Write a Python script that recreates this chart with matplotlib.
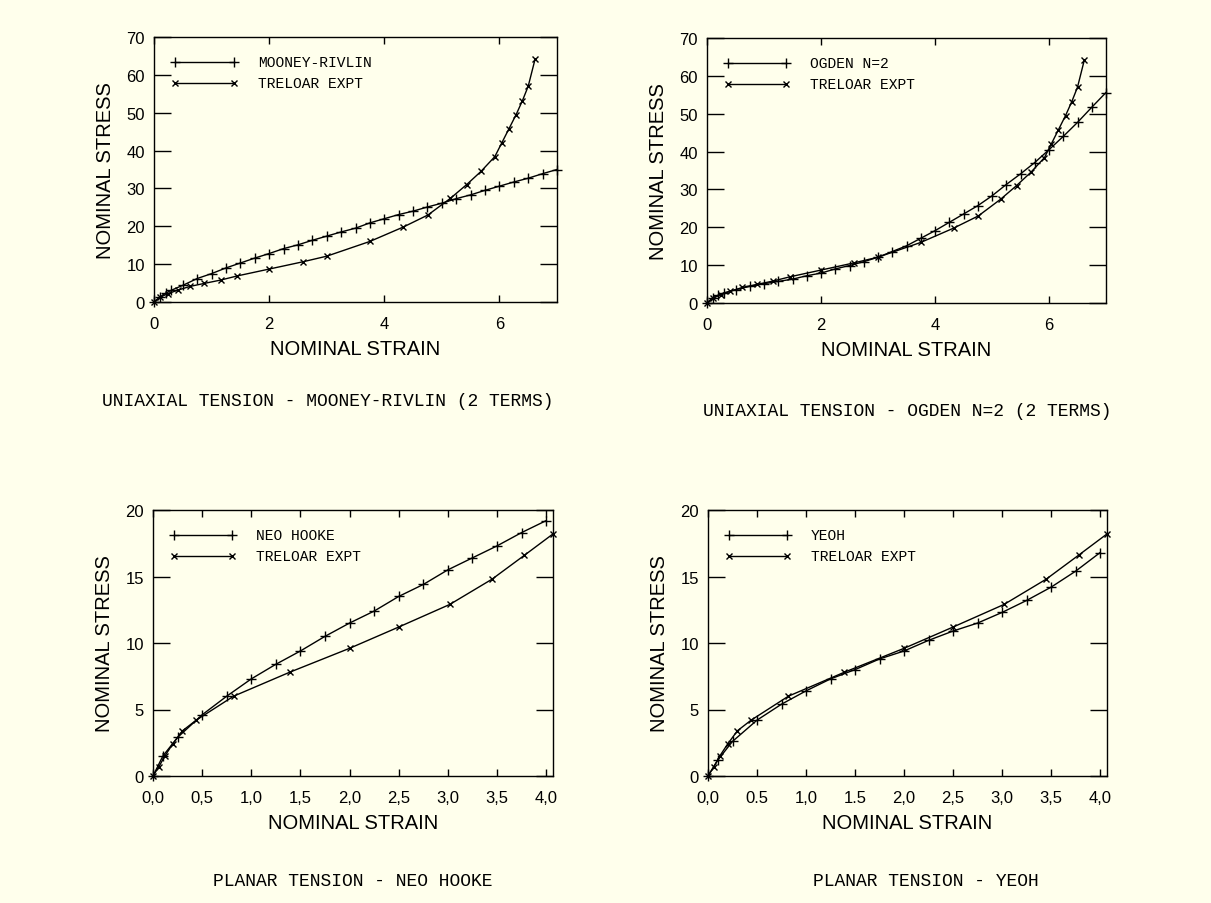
import numpy as np
import matplotlib
matplotlib.use("Agg")
import matplotlib.pyplot as plt

# uniaxial tension data
model_strain_u = [0.0, 0.1, 0.2, 0.3, 0.5, 0.75, 1.0, 1.25, 1.5, 1.75, 2.0, 2.25, 2.5, 2.75, 3.0, 3.25,
                  3.5, 3.75, 4.0, 4.25, 4.5, 4.75, 5.0, 5.25, 5.5, 5.75, 6.0, 6.25, 6.5, 6.75, 7.0]
mooney_stress = [0.0, 1.3, 2.3, 3.1, 4.4, 6.2, 7.5, 9.0, 10.3, 11.6, 12.8, 14.1, 15.1, 16.3, 17.4, 18.5,
                 19.5, 20.9, 22.0, 23.1, 24.0, 25.1, 26.1, 27.3, 28.3, 29.5, 30.6, 31.7, 32.7, 33.9, 35.0]
ogden_stress = [0.0, 1.4, 2.1, 2.7, 3.5, 4.4, 5.1, 5.7, 6.3, 7.2, 7.9, 9.0, 9.9, 10.9, 12.1, 13.6,
                15.1, 17.1, 19.1, 21.3, 23.5, 25.7, 28.3, 31.3, 34.1, 37.1, 40.5, 44.0, 47.7, 51.7, 55.6]
treloar_strain_u = [0.0, 0.1, 0.24, 0.41, 0.62, 0.87, 1.16, 1.45, 2.0, 2.58, 3.0, 3.75, 4.33, 4.76,
                    5.15, 5.43, 5.68, 5.92, 6.04, 6.16, 6.29, 6.40, 6.50, 6.62]
treloar_stress_u = [0.0, 1.2, 2.2, 3.1, 4.1, 4.9, 5.8, 6.9, 8.7, 10.6, 12.1, 16.0, 19.8, 23.0,
                    27.4, 31.0, 34.5, 38.4, 42.0, 45.6, 49.5, 53.2, 57.0, 64.2]

# planar tension data
model_strain_p = [0.0, 0.1, 0.25, 0.5, 0.75, 1.0, 1.25, 1.5, 1.75, 2.0, 2.25, 2.5, 2.75, 3.0, 3.25, 3.5, 3.75, 4.0]
neo_stress = [0.0, 1.5, 2.9, 4.6, 6.0, 7.3, 8.4, 9.4, 10.5, 11.5, 12.4, 13.5, 14.4, 15.5, 16.4, 17.3, 18.3, 19.2]
yeoh_stress = [0.0, 1.2, 2.6, 4.2, 5.4, 6.4, 7.3, 8.0, 8.8, 9.4, 10.2, 10.9, 11.5, 12.3, 13.2, 14.2, 15.4, 16.8]
treloar_strain_p = [0.0, 0.06, 0.12, 0.2, 0.3, 0.44, 0.82, 1.39, 2.0, 2.5, 3.02, 3.45, 3.78, 4.07]
treloar_stress_p = [0.0, 0.7, 1.5, 2.4, 3.4, 4.2, 6.0, 7.8, 9.6, 11.2, 12.9, 14.8, 16.6, 18.2]

xticks_u = [0, 2, 4, 6]
yticks_u = [0, 10, 20, 30, 40, 50, 60, 70]
xticks_p = [0, 0.5, 1.0, 1.5, 2.0, 2.5, 3.0, 3.5, 4.0]
xlabels_p_left = ["0,0", "0,5", "1,0", "1,5", "2,0", "2,5", "3,0", "3,5", "4,0"]
xlabels_p_right = ["0,0", "0.5", "1,0", "1.5", "2,0", "2,5", "3,0", "3,5", "4,0"]
yticks_p = [0, 5, 10, 15, 20]

bg = "#FFFFEC"
W, H = 1211, 904
sans = "Liberation Sans"
mono = "Liberation Mono"

fig = plt.figure(figsize=(W / 100, H / 100), dpi=100, facecolor=bg)


def make_axes(px_box):
    l, t, r, b = px_box
    ax = fig.add_axes([l / W, 1 - b / H, (r - l) / W, (b - t) / H])
    ax.set_facecolor(bg)
    for s in ax.spines.values():
        s.set_linewidth(1.0)
    ax.tick_params(axis="both", direction="in", top=True, right=True, width=1.0,
                   labelsize=12, colors="black")
    ax.tick_params(axis="y", length=12, pad=6.5)
    ax.tick_params(axis="x", length=5, pad=10)
    for lab in ax.get_xticklabels() + ax.get_yticklabels():
        lab.set_family(sans)
    return ax


def draw(ax, mx, my, mname, tx, ty, xlim, ylim, xt, xtl, yt):
    ax.plot(mx, my, color="black", lw=1.0, marker="+", ms=7, mew=1.0, clip_on=False)
    ax.plot(tx, ty, color="black", lw=1.0, marker="x", ms=5, mew=1.0, clip_on=False)
    ax.set_xlim(*xlim)
    ax.set_ylim(*ylim)
    ax.set_xticks(xt)
    ax.set_xticklabels(xtl, family=sans, fontsize=12)
    ax.set_yticks(yt)
    ax.set_yticklabels([str(v) for v in yt], family=sans, fontsize=12)
    ax.set_xlabel("NOMINAL STRAIN", family=sans, fontsize=14.5, labelpad=6)
    ax.set_ylabel("NOMINAL STRESS", family=sans, fontsize=14.5, labelpad=8)
    # legend keys (markers only at both ends of the key line)
    for yy, mk, ms, name in [(0.905, "+", 7, mname), (0.826, "x", 5, "TRELOAR EXPT")]:
        ax.plot([0.053, 0.198], [yy, yy], color="black", lw=1.0, marker=mk, ms=ms, mew=1.0,
                transform=ax.transAxes)
        ax.text(0.258, yy, name, transform=ax.transAxes, family=mono, fontsize=10.5,
                va="center", ha="left")


ax1 = make_axes((154, 38, 557, 303))
draw(ax1, model_strain_u, mooney_stress, "MOONEY-RIVLIN", treloar_strain_u, treloar_stress_u,
     (0, 7), (0, 70), xticks_u, [str(v) for v in xticks_u], yticks_u)

ax2 = make_axes((707, 39, 1106, 304))
draw(ax2, model_strain_u, ogden_stress, "OGDEN N=2", treloar_strain_u, treloar_stress_u,
     (0, 7), (0, 70), xticks_u, [str(v) for v in xticks_u], yticks_u)

ax3 = make_axes((153, 511, 553, 777))
draw(ax3, model_strain_p, neo_stress, "NEO HOOKE", treloar_strain_p, treloar_stress_p,
     (0, 4.07), (0, 20), xticks_p, xlabels_p_left, yticks_p)

ax4 = make_axes((708, 511, 1107, 777))
draw(ax4, model_strain_p, yeoh_stress, "YEOH", treloar_strain_p, treloar_stress_p,
     (0, 4.07), (0, 20), xticks_p, xlabels_p_right, yticks_p)

# captions under each plot
captions = [(102, 402, "UNIAXIAL TENSION - MOONEY-RIVLIN (2 TERMS)"),
            (703, 412, "UNIAXIAL TENSION - OGDEN N=2 (2 TERMS)"),
            (213, 882, "PLANAR TENSION - NEO HOOKE"),
            (813, 882, "PLANAR TENSION - YEOH")]
for cx, cy, txt in captions:
    fig.text(cx / W, 1 - cy / H, txt, family=mono, fontsize=13, ha="left", va="center")

fig.savefig("out.png", dpi=100, facecolor=bg)
